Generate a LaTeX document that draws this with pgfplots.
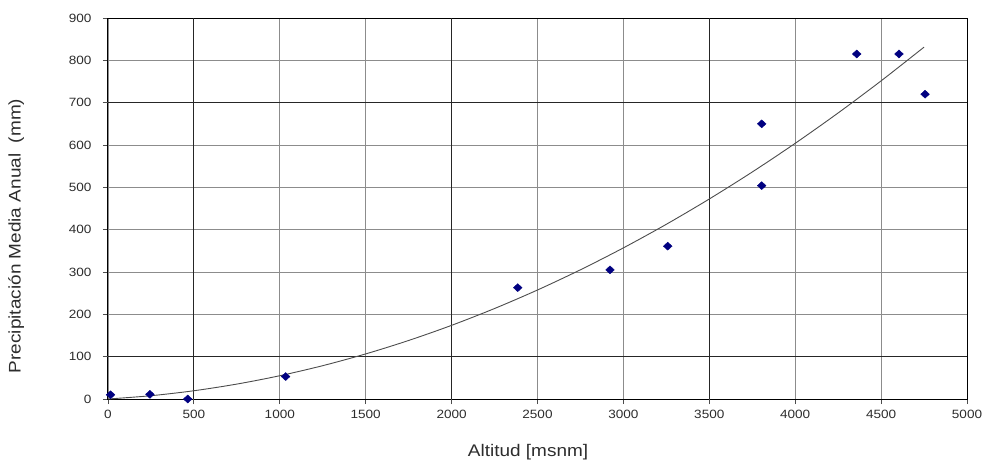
\documentclass[border=0pt]{standalone}
\usepackage{pgfplots}
\pgfplotsset{compat=1.18}
\usepackage{fontspec}
\setmainfont{Liberation Sans}[FakeStretch=1.13]
\definecolor{navy}{RGB}{0,0,128}
\definecolor{txt}{RGB}{45,45,45}
\begin{document}
\begin{tikzpicture}
\useasboundingbox (-108pt,-67pt) rectangle (876pt,399pt);
\begin{axis}[
  at={(0,0)}, anchor=south west,
  scale only axis, width=859pt, height=381pt,
  xmin=0, xmax=5000, ymin=0, ymax=900,
  xtick={0,500,...,5000}, ytick={0,100,...,900},
  xtick pos=left, ytick pos=left,
  /pgf/number format/set thousands separator={},
  /pgf/number format/assume math mode=true,
  grid=major,
  major grid style={draw=black!45, line width=0.9pt},
  axis line style={black, line width=1pt},
  tick style={black!70, line width=0.9pt},
  tick align=outside, major tick length=5pt,
  extra x ticks={500,2000,3500}, extra x tick labels={},
  extra y ticks={100,700}, extra y tick labels={},
  extra tick style={grid=major, major grid style={draw=black!85, line width=0.9pt}},
  tick label style={font=\fontsize{12}{12}\selectfont, text=txt},
  yticklabel style={xshift=-8pt},
  xticklabel style={yshift=-3pt},
  xlabel={Altitud [msnm]},
  ylabel={Precipitación Media Anual~~(mm)},
  label style={font=\fontsize{16.8}{17}\selectfont, text=txt},
  xlabel style={at={(axis description cs:0.489,-0.139)}, anchor=center},
  ylabel style={at={(axis description cs:-0.107,0.428)}, anchor=center, rotate=0},
  clip=false,
]
\addplot[black!70, line width=0.9pt, smooth] coordinates {
(0,0) (250,7.75) (500,19.5) (750,35.25) (1000,55) (1250,78.75) (1500,106.5)
(1750,138.25) (2000,174) (2250,213.75) (2500,257.5) (2750,305.25) (3000,357)
(3250,412.75) (3500,472.5) (3750,536.25) (4000,604) (4250,675.75) (4500,751.5)
(4750,831.25)};
\addplot[only marks, mark=diamond*, mark size=4pt, mark options={xscale=1.45, fill=navy, draw=navy}] coordinates {
(15,10) (244,11) (464,0) (1034,53) (2385,263) (2922,305) (3258,361)
(3805,650) (3805,504) (4358,815) (4604,815) (4756,720)};
\end{axis}
\end{tikzpicture}
\end{document}
